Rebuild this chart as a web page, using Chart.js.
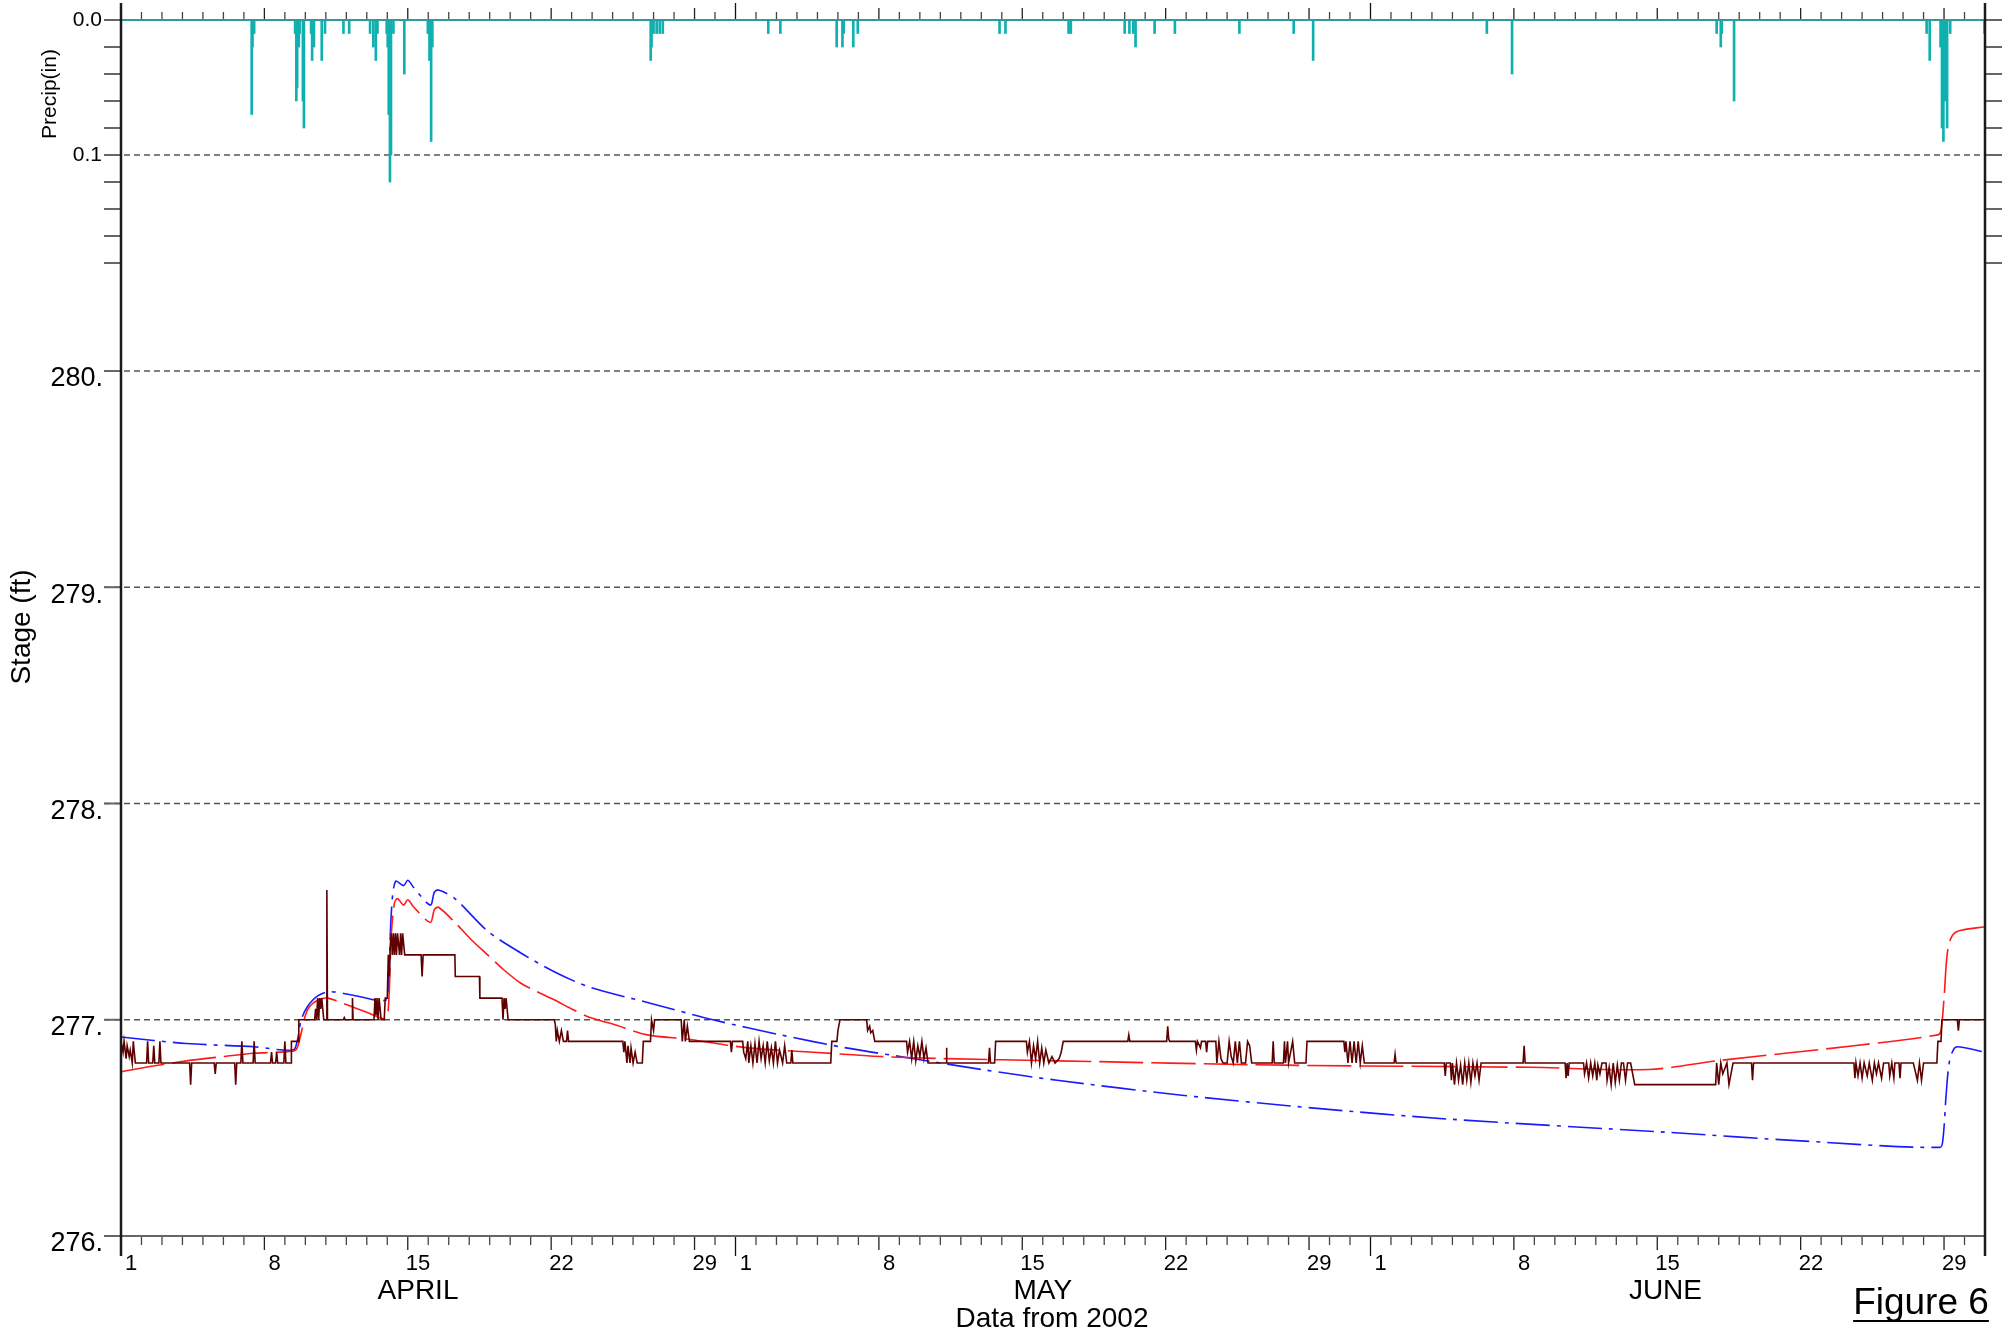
<!DOCTYPE html>
<html>
<head>
<meta charset="utf-8">
<script src="https://cdn.jsdelivr.net/npm/chart.js@4.4.0/dist/chart.umd.min.js"></script>
<style>
  html, body { margin: 0; padding: 0; background: #fff; }
  #wrap { width: 2007px; height: 1339px; position: relative; }
</style>
</head>
<body>
<div id="wrap"><canvas id="myChart" width="2007" height="1339"></canvas></div>
<script>
// days are counted from 2002-04-01 00:00
const monthNames = ["APRIL", "MAY", "JUNE"];
const monthStarts = [0, 30, 61, 91];
const monthLabelDays = [14.5, 45, 75.4];
const dayLabels = [1, 8, 15, 22, 29];
const weekDays = [8, 15, 22, 29];
const stageTicks = [276, 277, 278, 279, 280];
const stageGrid = [277, 278, 279, 280];
const precipTicks = [0, 0.02, 0.04, 0.06, 0.08, 0.1, 0.12, 0.14, 0.16, 0.18];
const precipLabels = [0, 0.1];
const precipGrid = [0.1];

// hourly rain (day, inches)
const precipEvents = [
  [6.38, 0.07], [6.42, 0.02], [6.5, 0.01],
  [8.5, 0.01], [8.56, 0.06], [8.6, 0.05], [8.68, 0.02], [8.72, 0.01],
  [8.88, 0.06], [8.93, 0.08],
  [9.28, 0.01], [9.33, 0.03], [9.42, 0.02], [9.8, 0.03], [9.96, 0.01],
  [10.86, 0.01], [11.14, 0.01],
  [12.16, 0.01], [12.32, 0.02], [12.44, 0.03], [12.52, 0.01],
  [12.97, 0.01], [13.02, 0.02], [13.07, 0.07], [13.13, 0.12], [13.18, 0.1], [13.3, 0.01],
  [13.83, 0.04],
  [14.98, 0.01], [15.06, 0.03], [15.14, 0.09], [15.2, 0.02],
  [25.86, 0.03], [25.9, 0.02], [26.0, 0.01], [26.15, 0.01], [26.3, 0.01], [26.45, 0.01],
  [31.6, 0.01], [32.19, 0.01],
  [34.94, 0.02], [35.22, 0.02], [35.28, 0.01], [35.75, 0.02], [35.97, 0.01],
  [42.89, 0.01], [43.18, 0.01], [46.26, 0.01], [46.37, 0.01],
  [49.0, 0.01], [49.23, 0.01], [49.42, 0.01], [49.53, 0.02],
  [50.46, 0.01], [51.45, 0.01], [54.6, 0.01], [57.25, 0.01], [58.2, 0.03],
  [66.68, 0.01], [67.91, 0.04],
  [77.9, 0.01], [78.1, 0.02], [78.15, 0.01], [78.75, 0.06],
  [88.15, 0.01], [88.3, 0.03], [88.83, 0.02], [88.9, 0.08], [88.97, 0.09],
  [89.03, 0.06], [89.07, 0.05], [89.15, 0.08], [89.3, 0.01], [90.98, 0.01]
];

// observed stage (day, ft)
const observedStage = [
  [0, 276.9], [0.1, 276.85], [0.15, 276.9], [0.25, 276.82], [0.3, 276.88], [0.4, 276.83],
  [0.45, 276.86], [0.55, 276.8], [0.6, 276.9], [0.7, 276.8], [1.25, 276.8], [1.3, 276.9],
  [1.35, 276.8], [1.55, 276.8], [1.6, 276.88], [1.65, 276.8], [1.85, 276.8], [1.9, 276.9],
  [1.95, 276.8], [3.35, 276.8], [3.4, 276.7], [3.45, 276.8], [4.55, 276.8], [4.6, 276.75],
  [4.65, 276.8], [5.55, 276.8], [5.6, 276.7], [5.65, 276.8], [5.85, 276.8], [5.9, 276.9],
  [5.95, 276.8], [6.45, 276.8], [6.5, 276.9], [6.55, 276.8], [7.3, 276.8], [7.35, 276.85],
  [7.4, 276.8], [7.55, 276.8], [7.6, 276.85], [7.65, 276.8], [7.95, 276.8], [8.0, 276.9],
  [8.05, 276.8], [8.3, 276.8], [8.32, 276.9], [8.65, 276.9], [8.68, 277.0],
  [9.45, 277.0], [9.5, 277.05], [9.55, 277.0], [9.6, 277.1], [9.65, 277.0], [9.7, 277.1],
  [9.75, 277.05], [9.8, 277.1], [9.9, 277.0], [10.03, 277.0], [10.05, 277.6], [10.08, 277.0],
  [10.85, 277.0], [10.9, 277.01], [10.95, 277.0], [11.28, 277.0], [11.3, 277.1], [11.33, 277.0],
  [12.35, 277.0], [12.4, 277.1], [12.45, 277.02], [12.5, 277.1], [12.55, 277.0], [12.6, 277.1],
  [12.7, 277.0], [12.85, 277.0], [12.9, 277.1], [13.0, 277.1], [13.05, 277.3], [13.1, 277.2],
  [13.15, 277.35], [13.2, 277.4], [13.25, 277.3], [13.3, 277.4], [13.35, 277.3], [13.4, 277.4],
  [13.45, 277.3], [13.5, 277.4], [13.6, 277.3], [13.65, 277.4], [13.7, 277.3], [13.75, 277.4],
  [13.85, 277.3], [14.65, 277.3], [14.7, 277.2], [14.75, 277.3], [16.3, 277.3], [16.32, 277.2],
  [17.5, 277.2], [17.52, 277.1], [18.6, 277.1], [18.65, 277.0], [18.7, 277.1], [18.75, 277.05],
  [18.8, 277.1], [18.9, 277.0], [21.15, 277.0], [21.2, 276.98], [21.25, 276.9], [21.3, 276.95],
  [21.4, 276.9], [21.5, 276.95], [21.6, 276.9], [21.75, 276.9], [21.8, 276.95], [21.85, 276.9],
  [24.5, 276.9], [24.55, 276.85], [24.6, 276.9], [24.7, 276.8], [24.75, 276.88], [24.85, 276.8],
  [24.9, 276.87], [25.0, 276.8], [25.1, 276.85], [25.2, 276.8], [25.45, 276.8], [25.5, 276.9],
  [25.85, 276.9], [25.9, 277.0], [26.0, 276.95], [26.05, 277.0], [27.35, 277.0], [27.4, 276.9],
  [27.5, 277.0], [27.55, 276.9], [27.65, 276.97], [27.75, 276.9], [29.75, 276.9], [29.8, 276.85],
  [29.85, 276.9], [30.35, 276.9], [30.4, 276.85], [30.5, 276.82], [30.6, 276.9], [30.65, 276.8],
  [30.75, 276.88], [30.85, 276.8], [30.95, 276.89], [31.05, 276.8], [31.15, 276.9], [31.25, 276.82],
  [31.35, 276.88], [31.45, 276.8], [31.55, 276.9], [31.65, 276.81], [31.75, 276.87], [31.85, 276.8],
  [31.95, 276.9], [32.05, 276.8], [32.15, 276.86], [32.3, 276.8], [32.4, 276.88], [32.5, 276.8],
  [32.7, 276.8], [32.75, 276.86], [32.8, 276.8], [34.65, 276.8], [34.7, 276.9], [34.95, 276.9],
  [35.0, 276.95], [35.1, 277.0], [36.4, 277.0], [36.45, 276.95], [36.55, 276.97], [36.6, 276.94],
  [36.7, 276.95], [36.8, 276.9], [38.35, 276.9], [38.4, 276.85], [38.5, 276.9], [38.6, 276.82],
  [38.7, 276.9], [38.8, 276.81], [38.9, 276.88], [39.0, 276.83], [39.1, 276.9], [39.2, 276.82],
  [39.3, 276.87], [39.4, 276.8], [40.28, 276.8], [40.3, 276.87], [40.32, 276.8], [42.35, 276.8],
  [42.4, 276.87], [42.45, 276.8], [42.65, 276.8], [42.7, 276.9], [44.2, 276.9], [44.25, 276.85],
  [44.35, 276.9], [44.45, 276.8], [44.55, 276.88], [44.65, 276.82], [44.75, 276.9], [44.85, 276.8],
  [44.95, 276.87], [45.05, 276.8], [45.15, 276.86], [45.3, 276.8], [45.45, 276.83], [45.6, 276.8],
  [45.8, 276.82], [45.9, 276.85], [46.0, 276.9], [49.15, 276.9], [49.2, 276.93], [49.25, 276.9],
  [51.05, 276.9], [51.1, 276.97], [51.15, 276.91], [51.2, 276.9], [52.45, 276.9], [52.5, 276.86],
  [52.55, 276.9], [52.7, 276.87], [52.75, 276.9], [52.95, 276.9], [53.0, 276.85], [53.05, 276.9],
  [53.45, 276.9], [53.5, 276.8], [53.6, 276.9], [53.7, 276.82], [53.8, 276.8], [54.0, 276.8],
  [54.1, 276.9], [54.2, 276.83], [54.3, 276.8], [54.4, 276.9], [54.5, 276.8], [54.6, 276.9],
  [54.7, 276.8], [54.9, 276.8], [55.0, 276.9], [55.1, 276.88], [55.2, 276.8], [56.2, 276.8],
  [56.25, 276.9], [56.3, 276.8], [56.75, 276.8], [56.8, 276.9], [56.85, 276.8], [56.95, 276.9],
  [57.0, 276.8], [57.2, 276.9], [57.3, 276.8], [57.85, 276.8], [57.9, 276.9], [59.7, 276.9],
  [59.75, 276.85], [59.8, 276.9], [59.9, 276.8], [60.0, 276.9], [60.1, 276.8], [60.2, 276.9],
  [60.3, 276.8], [60.4, 276.9], [60.5, 276.8], [60.6, 276.88], [60.7, 276.8], [62.15, 276.8],
  [62.2, 276.84], [62.25, 276.8], [64.6, 276.8], [64.65, 276.74], [64.7, 276.8], [64.9, 276.8],
  [64.95, 276.72], [65.0, 276.8], [65.1, 276.7], [65.2, 276.8], [65.3, 276.72], [65.4, 276.79],
  [65.5, 276.7], [65.6, 276.8], [65.7, 276.72], [65.8, 276.8], [65.9, 276.71], [66.0, 276.8],
  [66.1, 276.74], [66.2, 276.8], [66.3, 276.72], [66.4, 276.8], [68.45, 276.8], [68.5, 276.88],
  [68.55, 276.8], [70.5, 276.8], [70.55, 276.73], [70.6, 276.8], [70.65, 276.74], [70.7, 276.8],
  [71.4, 276.8], [71.45, 276.75], [71.55, 276.8], [71.65, 276.73], [71.75, 276.8], [71.85, 276.74],
  [71.95, 276.8], [72.05, 276.72], [72.1, 276.79], [72.2, 276.75], [72.3, 276.8], [72.5, 276.8],
  [72.55, 276.72], [72.65, 276.78], [72.75, 276.7], [72.85, 276.8], [72.95, 276.71], [73.05, 276.79],
  [73.15, 276.72], [73.25, 276.8], [73.35, 276.8], [73.45, 276.72], [73.55, 276.8], [73.7, 276.8],
  [73.9, 276.7], [77.85, 276.7], [77.9, 276.8], [78.0, 276.7], [78.1, 276.8], [78.2, 276.75],
  [78.4, 276.8], [78.5, 276.7], [78.7, 276.8], [79.6, 276.8], [79.65, 276.72], [79.7, 276.8],
  [84.6, 276.8], [84.65, 276.73], [84.7, 276.8], [84.8, 276.74], [84.9, 276.8], [85.0, 276.73],
  [85.1, 276.8], [85.25, 276.74], [85.35, 276.8], [85.5, 276.72], [85.6, 276.8], [85.7, 276.75],
  [85.8, 276.8], [85.95, 276.73], [86.05, 276.8], [86.3, 276.8], [86.35, 276.74], [86.45, 276.8],
  [86.55, 276.73], [86.6, 276.8], [86.8, 276.8], [86.85, 276.73], [86.9, 276.8], [87.5, 276.8],
  [87.6, 276.76], [87.7, 276.72], [87.8, 276.8], [87.9, 276.72], [88.0, 276.8], [88.65, 276.8],
  [88.7, 276.9], [88.85, 276.9], [88.9, 277.0], [89.65, 277.0], [89.7, 276.95], [89.75, 277.0],
  [91, 277.0]
];

// simulated stage, red long-dash
const modelRed = [
  [0, 276.76], [1.5, 276.785], [3.2, 276.81], [5, 276.83], [6.5, 276.845], [8.4, 276.855],
  [8.6, 276.87], [8.8, 276.94], [9.0, 277.02], [9.2, 277.06], [9.6, 277.09], [10.1, 277.1],
  [11, 277.07], [12, 277.035], [12.9, 277.005], [13.05, 277.05], [13.2, 277.4], [13.35, 277.54],
  [13.5, 277.56], [13.8, 277.53], [14.0, 277.555], [14.3, 277.52], [15.1, 277.45], [15.3, 277.51],
  [15.5, 277.52], [16.3, 277.45], [17.1, 277.37], [17.9, 277.3], [18.7, 277.23], [19.5, 277.17],
  [20.3, 277.13], [21.2, 277.09], [22.0, 277.05], [22.9, 277.01], [24.0, 276.98], [25.7, 276.93],
  [27.7, 276.91], [30.6, 276.87], [33.8, 276.85], [37.1, 276.83], [40.3, 276.82], [45.7, 276.81],
  [56.8, 276.79], [68.8, 276.78], [74.6, 276.77], [77.9, 276.81], [84.6, 276.88], [88.7, 276.93],
  [88.85, 276.95], [89.0, 277.1], [89.15, 277.3], [89.35, 277.38], [89.7, 277.41], [91, 277.43]
];

// simulated stage, blue dash-dot
const modelBlue = [
  [0, 276.92], [3.2, 276.89], [6.5, 276.875], [8.4, 276.86], [8.6, 276.9], [8.8, 277.0],
  [9.1, 277.06], [9.6, 277.11], [10.2, 277.13], [11.5, 277.11], [12.9, 277.09], [13.05, 277.15],
  [13.2, 277.5], [13.4, 277.64], [13.8, 277.62], [14.0, 277.645], [14.3, 277.61], [15.1, 277.53],
  [15.3, 277.59], [15.5, 277.6], [16.3, 277.56], [17.9, 277.41], [19.5, 277.31], [21.2, 277.22],
  [22.9, 277.15], [25.7, 277.08], [28.9, 277.0], [32.2, 276.93], [35.4, 276.87], [38.7, 276.82],
  [42.0, 276.77], [45.7, 276.72], [51.9, 276.65], [58.4, 276.59], [64.9, 276.54], [75.4, 276.48],
  [82, 276.44], [88.8, 276.41], [88.95, 276.45], [89.1, 276.65], [89.25, 276.8], [89.45, 276.86],
  [89.65, 276.875], [91, 276.85]
];

const toXY = (arr) => arr.map(([x, y]) => ({ x: x, y: y }));
const FONT = '"Liberation Sans", Arial, sans-serif';

function dayOfMonth(d) {
  for (let i = monthStarts.length - 2; i >= 0; i--) {
    if (d >= monthStarts[i]) return d - monthStarts[i] + 1;
  }
  return d + 1;
}

const hydroAxes = {
  id: "hydroAxes",
  beforeDatasetsDraw(chart) {
    const { ctx, chartArea: a, scales } = chart;
    ctx.save();
    ctx.strokeStyle = "#555";
    ctx.lineWidth = 1.5;
    ctx.setLineDash([6, 4]);
    const ys = stageGrid.map((v) => scales.yStage.getPixelForValue(v))
      .concat(precipGrid.map((v) => scales.yPrecip.getPixelForValue(v)));
    ys.forEach((y) => {
      ctx.beginPath();
      ctx.moveTo(a.left - 17, y);
      ctx.lineTo(a.right, y);
      ctx.stroke();
    });
    ctx.restore();
  },
  afterDatasetsDraw(chart) {
    const { ctx, chartArea: a, scales } = chart;
    const xs = scales.x, ys = scales.yStage, yp = scales.yPrecip;
    ctx.save();

    // day ticks top and bottom
    for (let d = 0; d <= 91; d++) {
      const x = xs.getPixelForValue(d);
      const dom = dayOfMonth(d);
      let top = 8, bot = 9, col = "#444";
      if (monthStarts.includes(d)) { top = 17; bot = 20; col = "#111"; }
      else if (weekDays.includes(dom)) { top = 12; bot = 14; col = "#222"; }
      ctx.strokeStyle = col;
      ctx.lineWidth = 1.3;
      ctx.beginPath();
      ctx.moveTo(x, a.top); ctx.lineTo(x, a.top - top);
      ctx.moveTo(x, a.bottom); ctx.lineTo(x, a.bottom + bot);
      ctx.stroke();
    }

    // y ticks
    ctx.strokeStyle = "#666";
    ctx.lineWidth = 2;
    precipTicks.forEach((v) => {
      const y = yp.getPixelForValue(v);
      ctx.beginPath();
      ctx.moveTo(a.left - 17, y); ctx.lineTo(a.left, y);
      ctx.moveTo(a.right, y); ctx.lineTo(a.right + 17, y);
      ctx.stroke();
    });
    stageTicks.forEach((v) => {
      const y = ys.getPixelForValue(v);
      ctx.beginPath();
      ctx.moveTo(a.left - 17, y); ctx.lineTo(a.left, y);
      ctx.stroke();
    });

    // frame
    ctx.strokeStyle = "#666";
    ctx.lineWidth = 2;
    ctx.beginPath();
    ctx.moveTo(a.left, a.bottom); ctx.lineTo(a.right, a.bottom);
    ctx.stroke();
    ctx.strokeStyle = "#2f9c9c";
    ctx.beginPath();
    ctx.moveTo(a.left, a.top); ctx.lineTo(a.right, a.top);
    ctx.stroke();
    ctx.strokeStyle = "#1a1a1a";
    ctx.lineWidth = 2.5;
    ctx.beginPath();
    ctx.moveTo(a.left, a.top - 17); ctx.lineTo(a.left, a.bottom + 20);
    ctx.moveTo(a.right, a.top - 17); ctx.lineTo(a.right, a.bottom + 20);
    ctx.stroke();

    // labels
    ctx.fillStyle = "#000";
    ctx.textAlign = "right";
    ctx.textBaseline = "middle";
    ctx.font = "27px " + FONT;
    stageTicks.forEach((v) => {
      ctx.fillText(v + ".", a.left - 18, ys.getPixelForValue(v) + 8);
    });
    ctx.font = "21px " + FONT;
    precipLabels.forEach((v) => {
      ctx.fillText(v.toFixed(1), a.left - 19, yp.getPixelForValue(v));
    });

    ctx.textAlign = "center";
    ctx.font = "22px " + FONT;
    for (let d = 0; d < 91; d++) {
      const dom = dayOfMonth(d);
      if (dayLabels.includes(dom)) {
        ctx.fillText(String(dom), xs.getPixelForValue(d + 0.5), a.bottom + 28);
      }
    }
    ctx.font = "28px " + FONT;
    monthNames.forEach((m, i) => {
      ctx.fillText(m, xs.getPixelForValue(monthLabelDays[i]), a.bottom + 55);
    });
    ctx.fillText("Data from 2002", 1052, a.bottom + 83);

    ctx.font = "37px " + FONT;
    ctx.fillText("Figure 6", 1921, 1304);
    const w = ctx.measureText("Figure 6").width;
    ctx.strokeStyle = "#000";
    ctx.lineWidth = 2;
    ctx.beginPath();
    ctx.moveTo(1921 - w / 2, 1321); ctx.lineTo(1921 + w / 2, 1321);
    ctx.stroke();

    ctx.save();
    ctx.translate(22, 627);
    ctx.rotate(-Math.PI / 2);
    ctx.font = "28px " + FONT;
    ctx.fillText("Stage (ft)", 0, 0);
    ctx.restore();
    ctx.save();
    ctx.translate(50, 94);
    ctx.rotate(-Math.PI / 2);
    ctx.font = "21px " + FONT;
    ctx.fillText("Precip(in)", 0, 0);
    ctx.restore();

    ctx.restore();
  }
};

const ctx = document.getElementById("myChart").getContext("2d");
new Chart(ctx, {
  data: {
    datasets: [
      {
        type: "line",
        label: "Observed",
        data: toXY(observedStage),
        yAxisID: "yStage",
        borderColor: "#5e0000",
        borderWidth: 1.6,
        pointRadius: 0,
        tension: 0,
      },
      {
        type: "line",
        label: "Model A",
        data: toXY(modelRed),
        yAxisID: "yStage",
        borderColor: "#ff1a1a",
        borderWidth: 1.6,
        borderDash: [44, 8],
        pointRadius: 0,
        tension: 0.3,
      },
      {
        type: "line",
        label: "Model B",
        data: toXY(modelBlue),
        yAxisID: "yStage",
        borderColor: "#1a1aff",
        borderWidth: 1.6,
        borderDash: [34, 7, 4, 7],
        pointRadius: 0,
        tension: 0.3,
      },
      {
        type: "bar",
        label: "Precip",
        data: toXY(precipEvents),
        yAxisID: "yPrecip",
        backgroundColor: "#0fb0b0",
        barThickness: 2,
      },
    ],
  },
  options: {
    responsive: false,
    animation: false,
    devicePixelRatio: 1,
    layout: { padding: { left: 121, right: 22, top: 20, bottom: 103 } },
    plugins: { legend: { display: false }, tooltip: { enabled: false } },
    scales: {
      x: { type: "linear", min: 0, max: 91, offset: false, display: false },
      yStage: { type: "linear", min: 276, max: 281.623, display: false },
      yPrecip: { type: "linear", min: 0, max: 0.9007, reverse: true, display: false },
    },
  },
  plugins: [hydroAxes],
});
</script>
</body>
</html>
